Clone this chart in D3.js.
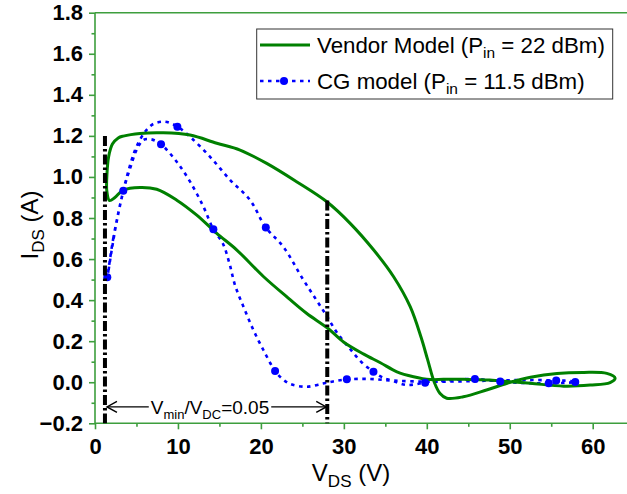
<!DOCTYPE html>
<html>
<head>
<meta charset="utf-8">
<script src="https://cdn.jsdelivr.net/npm/d3@7/dist/d3.min.js"></script>
<style>
  html, body { margin: 0; padding: 0; background: #fff; }
  svg { display: block; font-family: "Liberation Sans", Arial, sans-serif; }
</style>
</head>
<body>
<svg id="chart" width="627" height="494"></svg>
<script>
// Vendor model dynamic load line (closed loop), V_DS in volts, I_DS in amps
const vendorV = [1.75, 1.43, 1.45, 1.65, 2.1, 2.8, 3.41, 5.43, 8.24, 11.46, 14.68, 17.49, 20.7, 24.3, 27.95, 30.76, 33.6, 36.0, 38.0, 39.3, 40.1, 40.9, 41.6, 42.4, 44.4, 47.2, 49.7, 52.5, 55.7, 58.9, 61.7, 62.7, 62.1, 59.7, 56.5, 52.5, 50.1, 47.6, 44.5, 42.0, 40.4, 38.4, 36.4, 34.4, 32.4, 30.0, 28.1, 25.5, 23.3, 20.3, 17.1, 14.68, 12.27, 9.86, 7.44, 5.43, 3.41, 2.4];
const vendorI = [0.885, 0.93, 1.02, 1.10, 1.16, 1.19, 1.199, 1.212, 1.215, 1.204, 1.164, 1.131, 1.066, 0.977, 0.879, 0.774, 0.644, 0.514, 0.368, 0.22, 0.11, 0.0, -0.055, -0.078, -0.071, -0.038, -0.005, 0.024, 0.043, 0.048, 0.043, 0.02, -0.002, -0.014, -0.019, -0.005, 0.002, 0.011, 0.014, 0.014, 0.013, 0.027, 0.051, 0.095, 0.137, 0.195, 0.262, 0.336, 0.41, 0.515, 0.644, 0.725, 0.814, 0.887, 0.94, 0.949, 0.936, 0.9];

// CG model load line (closed loop)
const cgV = [1.5, 2.2, 3.41, 4.4, 5.0, 6.03, 7.03, 8.44, 9.93, 11.46, 13.87, 16.3, 18.7, 20.59, 22.7, 25.1, 26.7, 27.9, 29.2, 30.8, 32.2, 33.57, 34.6, 36.0, 37.6, 39.8, 42.6, 45.8, 48.85, 52.0, 54.7, 57.9, 56.6, 55.6, 52.0, 48.0, 44.0, 40.0, 36.0, 33.0, 30.4, 28.7, 27.5, 25.5, 23.5, 22.5, 21.71, 20.3, 19.1, 17.9, 16.9, 16.2, 15.4, 14.27, 13.07, 11.46, 9.85, 7.96, 6.8, 5.83, 5.0, 4.3, 3.6, 2.7, 2.0];
const cgI = [0.51, 0.70, 0.933, 1.08, 1.147, 1.22, 1.258, 1.269, 1.245, 1.196, 1.098, 0.985, 0.887, 0.754, 0.66, 0.50, 0.40, 0.325, 0.24, 0.16, 0.095, 0.051, 0.025, 0.005, -0.013, -0.002, 0.01, 0.016, 0.004, -0.004, -0.005, 0.001, 0.008, 0.009, 0.011, 0.008, 0.004, 0.003, 0.008, 0.016, 0.014, 0.004, -0.006, -0.022, -0.008, 0.02, 0.055, 0.157, 0.254, 0.368, 0.47, 0.58, 0.677, 0.745, 0.855, 0.977, 1.074, 1.159, 1.183, 1.18, 1.13, 1.05, 0.96, 0.80, 0.64];

// CG model sample points (markers)
const cgMarkV = [1.48, 3.41, 7.96, 9.93, 14.27, 20.59, 21.71, 30.36, 33.57, 39.8, 45.8, 48.85, 54.7, 55.6, 57.9];
const cgMarkI = [0.511, 0.933, 1.159, 1.245, 0.745, 0.754, 0.055, 0.014, 0.051, -0.002, 0.016, 0.004, -0.005, 0.009, 0.001];

// Knee voltage and DC supply markers
const vMin = 1.2, vDC = 28;
const vMinTop = 1.2, vDCTop = 0.885, markerBottom = -0.2;
const annotY = -0.12;

const xTicks = [0, 10, 20, 30, 40, 50, 60];
const xMinor = [5, 15, 25, 35, 45, 55];
const yTicks = [-0.2, 0.0, 0.2, 0.4, 0.6, 0.8, 1.0, 1.2, 1.4, 1.6, 1.8];
const yMinor = [-0.1, 0.1, 0.3, 0.5, 0.7, 0.9, 1.1, 1.3, 1.5, 1.7];

const axisColor = "#3d9e3d";
const svg = d3.select("#chart");

const plotL = 95, plotR = 627, plotT = 12.7, plotB = 423.3;
const x = d3.scaleLinear().domain([0, 60]).range([plotL, 592.7]);
const y = d3.scaleLinear().domain([-0.2, 1.8]).range([plotB, plotT]);

// ---- axes ----
const xAxis = d3.axisBottom(x).tickValues(xTicks).tickSize(6).tickSizeOuter(0).tickPadding(9).tickFormat(d3.format("d"));
const gx = svg.append("g").attr("transform", `translate(0,${plotB})`).call(xAxis);
gx.select(".domain").remove();
gx.append("line").attr("class", "frame").attr("x1", plotL).attr("x2", plotR).attr("y1", 0).attr("y2", 0);
const gxm = svg.append("g").attr("transform", `translate(0,${plotB})`)
  .call(d3.axisBottom(x).tickValues(xMinor).tickSize(3.5).tickFormat(""));
gxm.select(".domain").remove();

const yAxis = d3.axisLeft(y).tickValues(yTicks).tickSize(6).tickSizeOuter(0).tickPadding(6).tickFormat(d3.format(".1f"));
const gy = svg.append("g").attr("transform", `translate(${plotL},0)`).call(yAxis);
gy.select(".domain").remove();
gy.append("line").attr("class", "frame").attr("x1", 0).attr("x2", 0).attr("y1", plotT).attr("y2", plotB);
const gym = svg.append("g").attr("transform", `translate(${plotL},0)`)
  .call(d3.axisLeft(y).tickValues(yMinor).tickSize(3.5).tickFormat(""));
gym.select(".domain").remove();

// top frame
svg.append("line").attr("class", "frame").attr("x1", plotL).attr("x2", plotR).attr("y1", plotT).attr("y2", plotT);

svg.selectAll(".tick line, line.frame").attr("stroke", axisColor).attr("stroke-width", 1.6);
svg.selectAll(".tick text")
  .attr("fill", "#000").attr("font-size", 22).attr("font-weight", "bold")
  .attr("font-family", "'Liberation Sans', Arial, sans-serif");

// axis titles
const xt = svg.append("text").attr("x", 351).attr("y", 481).attr("text-anchor", "middle")
  .attr("font-size", 24).attr("fill", "#000");
xt.append("tspan").text("V");
xt.append("tspan").attr("font-size", 17).attr("dy", 6).text("DS");
xt.append("tspan").attr("dy", -6).text(" (V)");

const yt = svg.append("text").attr("transform", "translate(38,225) rotate(-90)")
  .attr("text-anchor", "middle").attr("font-size", 24).attr("fill", "#000");
yt.append("tspan").text("I");
yt.append("tspan").attr("font-size", 17).attr("dy", 6).text("DS");
yt.append("tspan").attr("dy", -6).text(" (A)");

// ---- curves ----
const line = d3.line().x(d => x(d[0])).y(d => y(d[1])).curve(d3.curveCatmullRomClosed.alpha(0.5));
const vendorPts = vendorV.map((v, i) => [v, vendorI[i]]);
const cgPts = cgV.map((v, i) => [v, cgI[i]]);

svg.append("path").attr("d", line(cgPts)).attr("fill", "none")
  .attr("stroke", "#0000ff").attr("stroke-width", 2.6).attr("stroke-dasharray", "3.5,4.5");

svg.append("path").attr("d", line(vendorPts)).attr("fill", "none")
  .attr("stroke", "#008000").attr("stroke-width", 3).attr("stroke-linejoin", "round");

svg.selectAll("circle.cg").data(cgMarkV.map((v, i) => [v, cgMarkI[i]])).join("circle")
  .attr("class", "cg").attr("cx", d => x(d[0])).attr("cy", d => y(d[1])).attr("r", 4)
  .attr("fill", "#0000ff");

// ---- V_min and V_DC markers ----
const dashDot = "10,3,2.5,3";
svg.append("line").attr("x1", x(vMin)).attr("x2", x(vMin)).attr("y1", y(vMinTop)).attr("y2", y(markerBottom))
  .attr("stroke", "#000").attr("stroke-width", 4).attr("stroke-dasharray", dashDot);
svg.append("line").attr("x1", x(vDC)).attr("x2", x(vDC)).attr("y1", y(vDCTop)).attr("y2", y(markerBottom))
  .attr("stroke", "#000").attr("stroke-width", 4).attr("stroke-dasharray", dashDot);

// double-headed arrow with ratio label
const ay = y(annotY), ax1 = x(vMin) + 2, ax2 = x(vDC) - 1;
const ag = svg.append("g").attr("stroke", "#000").attr("stroke-width", 1.4).attr("fill", "none");
ag.append("line").attr("x1", ax1).attr("x2", ax2).attr("y1", ay).attr("y2", ay);
ag.append("path").attr("d", `M${ax1 + 10},${ay - 5.5}L${ax1},${ay}L${ax1 + 10},${ay + 5.5}`);
ag.append("path").attr("d", `M${ax2 - 10},${ay - 5.5}L${ax2},${ay}L${ax2 - 10},${ay + 5.5}`);

const labelBg = svg.append("rect").attr("fill", "#fff");
const at = svg.append("text").attr("x", 210).attr("y", ay + 7).attr("text-anchor", "middle")
  .attr("font-size", 19).attr("fill", "#000");
at.append("tspan").text("V");
at.append("tspan").attr("font-size", 13).attr("dy", 5).text("min");
at.append("tspan").attr("dy", -5).text("/V");
at.append("tspan").attr("font-size", 13).attr("dy", 5).text("DC");
at.append("tspan").attr("dy", -5).text("=0.05");
const bb = at.node().getBBox();
labelBg.attr("x", bb.x - 2).attr("y", ay - 3).attr("width", bb.width + 4).attr("height", 6);

// ---- legend ----
const lg = svg.append("g");
lg.append("rect").attr("x", 256.7).attr("y", 29).attr("width", 356).attr("height", 70)
  .attr("fill", "#fff").attr("stroke", "#333").attr("stroke-width", 1);
lg.append("line").attr("x1", 260).attr("x2", 310).attr("y1", 45).attr("y2", 45)
  .attr("stroke", "#008000").attr("stroke-width", 3);
lg.append("line").attr("x1", 260).attr("x2", 310).attr("y1", 81).attr("y2", 81)
  .attr("stroke", "#0000ff").attr("stroke-width", 2.6).attr("stroke-dasharray", "3.5,4.5");
lg.append("circle").attr("cx", 284).attr("cy", 81).attr("r", 4).attr("fill", "#0000ff");

const legendRows = [
  { y: 52.5, pre: "Vendor Model (P", post: " = 22 dBm)" },
  { y: 88.5, pre: "CG model (P", post: " = 11.5 dBm)" }
];
legendRows.forEach(r => {
  const t = lg.append("text").attr("x", 317).attr("y", r.y).attr("font-size", 22.3).attr("fill", "#000");
  t.append("tspan").text(r.pre);
  t.append("tspan").attr("font-size", 15.5).attr("dy", 5).text("in");
  t.append("tspan").attr("dy", -5).text(r.post);
});
</script>
</body>
</html>
